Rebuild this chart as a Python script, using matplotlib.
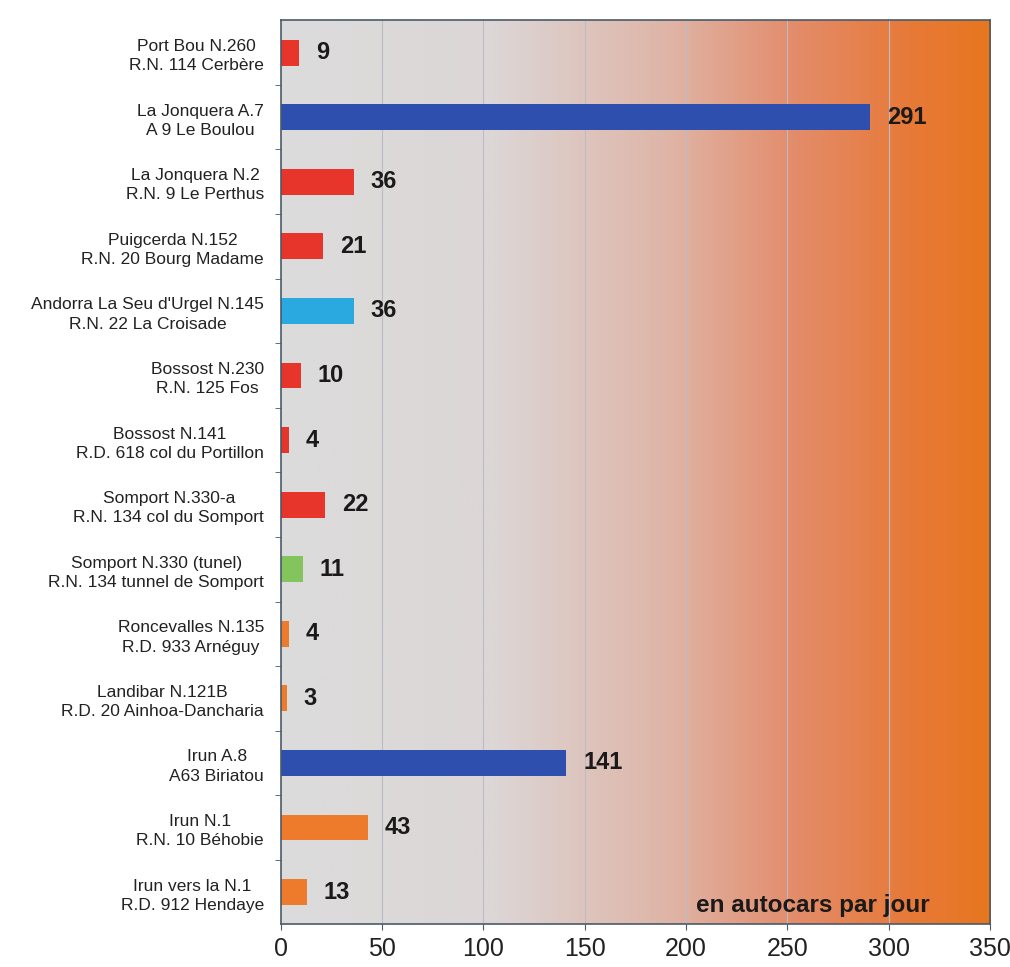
import numpy as np
import matplotlib.pyplot as plt
from matplotlib.colors import LinearSegmentedColormap

plt.rcParams['font.family'] = ['Liberation Sans', 'DejaVu Sans']

# crossing points, top to bottom
labels = [
    "Port Bou N.260\nR.N. 114 Cerbère",
    "La Jonquera A.7\nA 9 Le Boulou",
    "La Jonquera N.2\nR.N. 9 Le Perthus",
    "Puigcerda N.152\nR.N. 20 Bourg Madame",
    "Andorra La Seu d'Urgel N.145\nR.N. 22 La Croisade",
    "Bossost N.230\nR.N. 125 Fos",
    "Bossost N.141\nR.D. 618 col du Portillon",
    "Somport N.330-a\nR.N. 134 col du Somport",
    "Somport N.330 (tunel)\nR.N. 134 tunnel de Somport",
    "Roncevalles N.135\nR.D. 933 Arnéguy",
    "Landibar N.121B\nR.D. 20 Ainhoa-Dancharia",
    "Irun A.8\nA63 Biriatou",
    "Irun N.1\nR.N. 10 Béhobie",
    "Irun vers la N.1\nR.D. 912 Hendaye",
]
values = [9, 291, 36, 21, 36, 10, 4, 22, 11, 4, 3, 141, 43, 13]
kinds = ["road", "motorway", "road", "road", "andorra", "road", "road", "road",
         "tunnel", "west", "west", "motorway", "west", "west"]
kind_colors = {"road": "#e8352c", "motorway": "#2f4fae", "andorra": "#2aa9e0",
               "tunnel": "#84c45c", "west": "#ee7a2c"}
xticks = [0, 50, 100, 150, 200, 250, 300, 350]

fig = plt.figure(figsize=(10.10, 9.67), dpi=100)
ax = fig.add_axes([0.278, 0.044, 0.702, 0.935])

n = len(values)
y = np.arange(n)
ax.set_xlim(0, 350)
ax.set_ylim(n - 0.5, -0.5)

# background gradient, grey on the left to orange on the right
bg = LinearSegmentedColormap.from_list("bg", [
    (0.0, "#dcdcdc"), (0.3, "#dcd6d6"), (0.55, "#dfb4a6"),
    (0.72, "#e38d6c"), (0.88, "#e77a3a"), (1.0, "#e8761f")])
grad = np.linspace(0, 1, 256).reshape(1, -1)
ax.imshow(grad, cmap=bg, aspect="auto", extent=(0, 350, n - 0.5, -0.5), zorder=0)

for x in xticks[1:-1]:
    ax.axvline(x, color="#bcbcc4", lw=0.8, zorder=1)

colors = [kind_colors[k] for k in kinds]
ax.barh(y, values, height=0.4, color=colors, zorder=2)
for yi, v in zip(y, values):
    ax.annotate(str(v), (v, yi), xytext=(12, 0), textcoords="offset points",
                va="center", ha="left", fontsize=17, fontweight="bold", color="#1a1a1a")

ax.set_yticks(y)
ax.set_yticklabels(labels, fontsize=12.5, multialignment="center", color="#222222",
                   linespacing=1.35)
ax.set_yticks(np.arange(n - 1) + 0.5, minor=True)
ax.tick_params(axis="y", which="major", length=0, pad=12)
ax.tick_params(axis="y", which="minor", length=4, color="#4a5a6a")

ax.set_xticks(xticks)
ax.set_xticklabels([str(t) for t in xticks], fontsize=18, color="#222222")
ax.tick_params(axis="x", length=4, color="#4a5a6a", pad=5)

for s in ax.spines.values():
    s.set_color("#4a5a6a")
    s.set_linewidth(1.2)

ax.text(0.915, 0.008, "en autocars par jour", transform=ax.transAxes,
        ha="right", va="bottom", fontsize=17.5, fontweight="bold", color="#1a1a1a")

fig.savefig("out.png", dpi=100)
